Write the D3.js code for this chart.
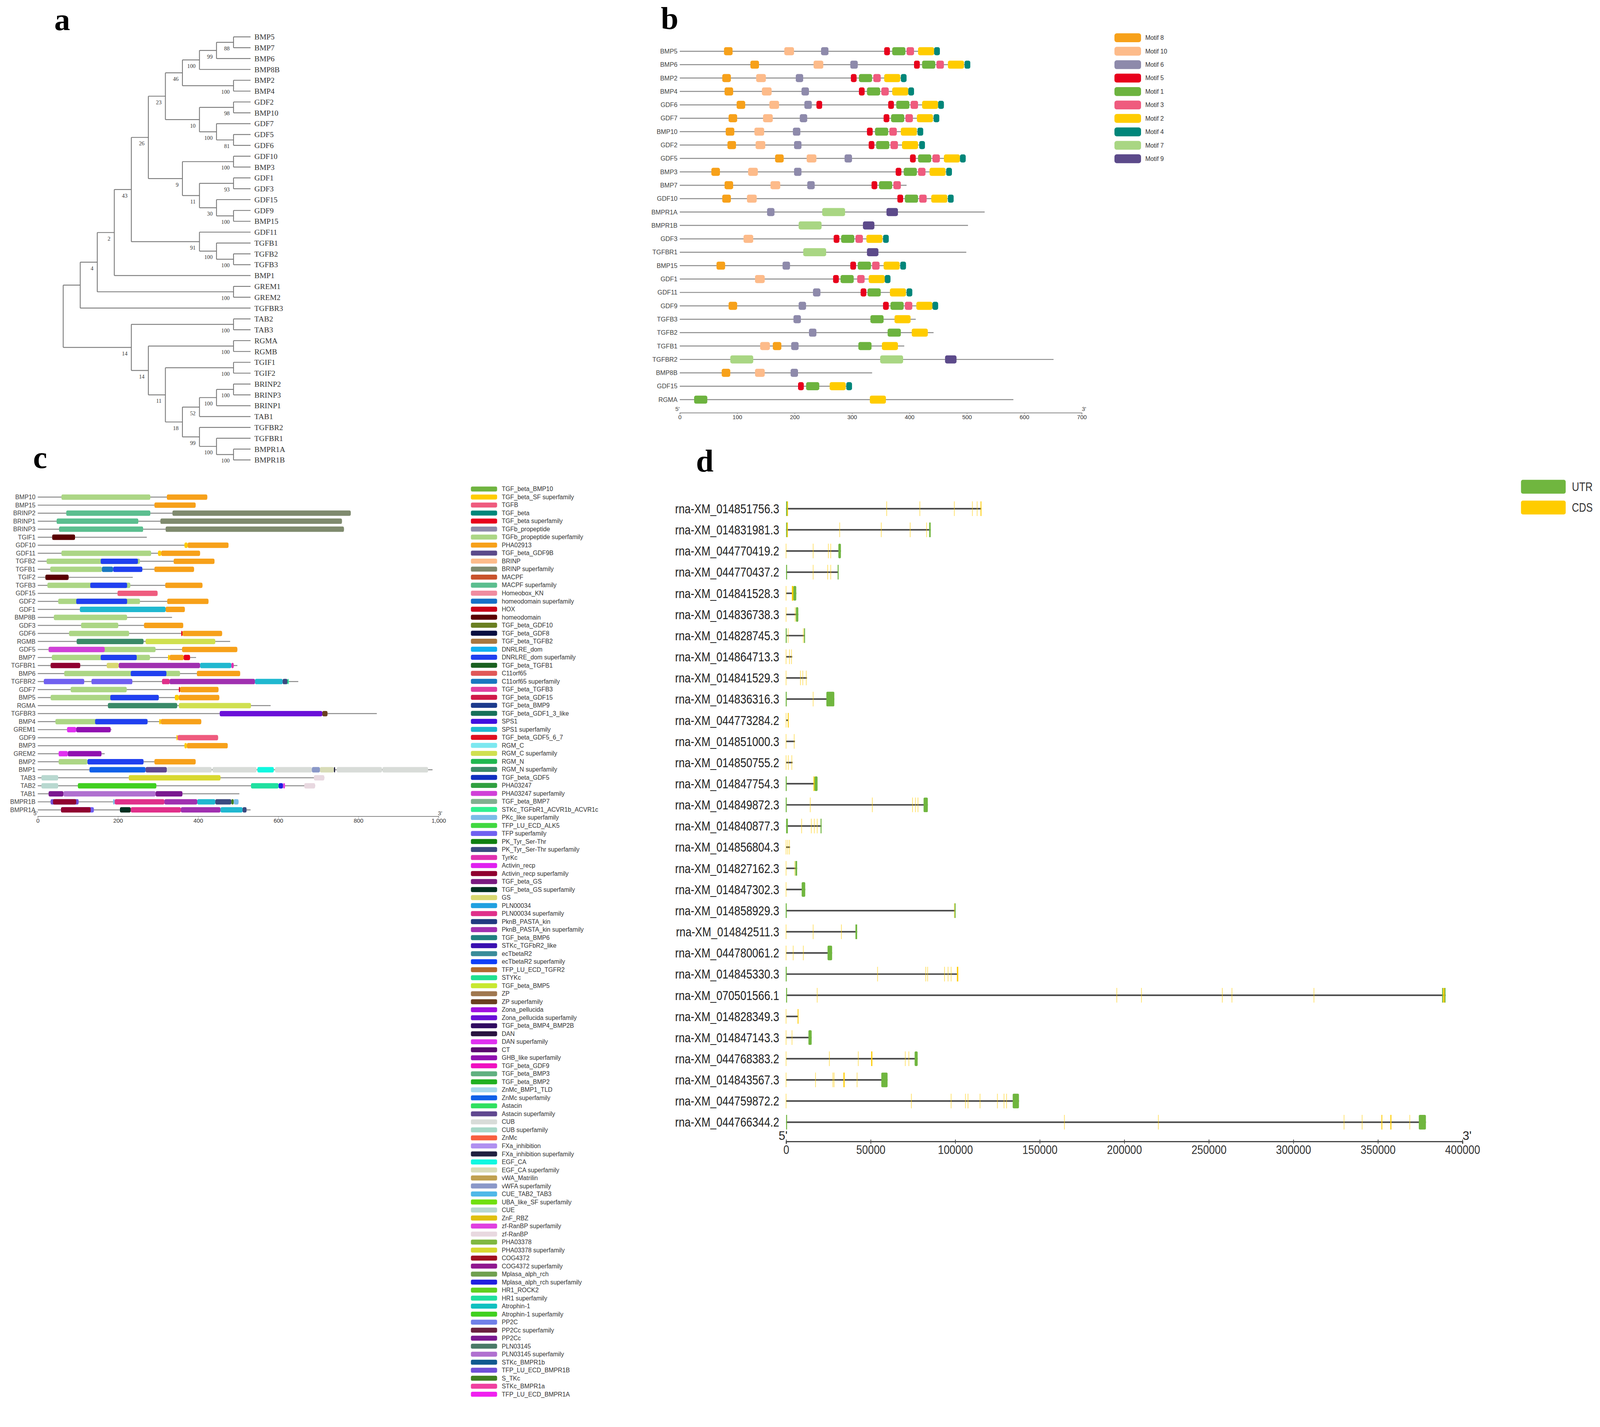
<!DOCTYPE html>
<html>
<head>
<meta charset="utf-8">
<script src="https://cdn.jsdelivr.net/npm/d3@7"></script>
<style>
  html, body { margin: 0; padding: 0; background: #fff; overflow: hidden; }
  svg { display: block; width: 100vw; height: auto; }
</style>
</head>
<body>
<svg id="fig" viewBox="0 0 4152 3653" preserveAspectRatio="xMinYMin meet"></svg>
<script>
// ---------- a: phylogenetic tree (newick, bootstrap after each clade) ----------
const treeNewick =
  "(((((((((((BMP5,BMP7)88,BMP6)99,BMP8B)100,(BMP2,BMP4)100)46,((GDF2,BMP10)98,(GDF7,(GDF5,GDF6)81)100)10)23," +
  "((GDF10,BMP3)100,((GDF1,GDF3)93,(GDF15,(GDF9,BMP15)100)30)11)9)26,(GDF11,(TGFB1,(TGFB2,TGFB3)100)100)91)43,BMP1)2," +
  "(GREM1,GREM2)100)4,TGFBR3),((TAB2,TAB3)100,((RGMA,RGMB)100,((TGIF1,TGIF2)100,((((BRINP2,BRINP3)100,BRINP1)100,TAB1)52," +
  "(TGFBR2,(TGFBR1,(BMPR1A,BMPR1B)100)100)99)18)11)14)14);";

// ---------- b: conserved motifs ----------
const motifIds = [8, 10, 6, 5, 1, 3, 2, 4, 7, 9];
const motifColors = ["#f7a11a", "#fdbb8a", "#8e8aab", "#e8001c", "#6db33f", "#ef5b7e", "#ffcc00", "#00867a", "#a9d683", "#5c4a8a"];
// motif width in aa, indexed by motif number - 1
const motifSizes = [23, 28, 13, 10, 10, 13, 40, 15, 20, 17];
const motifGenes = ["BMP5", "BMP6", "BMP2", "BMP4", "GDF6", "GDF7", "BMP10", "GDF2", "GDF5", "BMP3", "BMP7", "GDF10", "BMPR1A", "BMPR1B",
  "GDF3", "TGFBR1", "BMP15", "GDF1", "GDF11", "GDF9", "TGFB3", "TGFB2", "TGFB1", "TGFBR2", "BMP8B", "GDF15", "RGMA"];
const motifLengths = [453, 505, 394, 408, 460, 451, 423, 426, 498, 474, 395, 476, 531, 502, 363, 499, 394, 367, 404, 450, 411, 442, 391, 651, 335, 299, 581];
// [motif, start]
const motifSites = [
  [[8, 77], [10, 182], [6, 246], [5, 356], [1, 370], [3, 395], [2, 415], [4, 443]],
  [[8, 123], [10, 233], [6, 297], [5, 408], [1, 422], [3, 447], [2, 467], [4, 496]],
  [[8, 74], [10, 133], [6, 202], [5, 298], [1, 312], [3, 337], [2, 356], [4, 385]],
  [[8, 78], [10, 143], [6, 212], [5, 312], [1, 326], [3, 351], [2, 370], [4, 398]],
  [[8, 99], [10, 156], [6, 217], [5, 238], [5, 363], [1, 377], [3, 402], [2, 422], [4, 450]],
  [[8, 85], [10, 145], [6, 209], [5, 355], [1, 368], [3, 393], [2, 413], [4, 442]],
  [[8, 80], [10, 130], [6, 197], [5, 326], [1, 340], [3, 365], [2, 385], [4, 414]],
  [[8, 83], [10, 132], [6, 199], [5, 329], [1, 342], [3, 367], [2, 387], [4, 417]],
  [[8, 166], [10, 221], [6, 287], [5, 401], [1, 415], [3, 440], [2, 460], [4, 488]],
  [[8, 55], [10, 119], [6, 199], [5, 376], [1, 390], [3, 415], [2, 435], [4, 464]],
  [[8, 78], [10, 158], [6, 222], [5, 334], [1, 347], [3, 372]],
  [[8, 74], [10, 117], [5, 379], [1, 392], [3, 417], [2, 438], [4, 467]],
  [[6, 152], [7, 248], [9, 360]],
  [[7, 207], [9, 319]],
  [[10, 111], [5, 268], [1, 281], [3, 306], [2, 325], [4, 354]],
  [[7, 215], [9, 326]],
  [[8, 64], [6, 179], [5, 297], [1, 310], [3, 335], [2, 355], [4, 384]],
  [[10, 131], [5, 267], [1, 280], [3, 309], [2, 329], [4, 357]],
  [[6, 232], [5, 315], [1, 327], [2, 366], [4, 395]],
  [[8, 85], [6, 207], [5, 354], [1, 367], [3, 392], [2, 412], [4, 440]],
  [[6, 198], [1, 332], [2, 374]],
  [[6, 225], [1, 362], [2, 404]],
  [[10, 140], [8, 162], [6, 194], [1, 311], [2, 352]],
  [[7, 88], [7, 349], [9, 462]],
  [[8, 73], [10, 131], [6, 193]],
  [[5, 206], [1, 220], [2, 261], [4, 290]],
  [[1, 25], [2, 331]]
];

// ---------- c: conserved domains ----------
const domainLegend = [
  ["TGF_beta_BMP10", "#6fb43f"], ["TGF_beta_SF superfamily", "#ffcc00"], ["TGFB", "#ef5b7e"], ["TGF_beta", "#00877a"],
  ["TGF_beta superfamily", "#e8001c"], ["TGFb_propeptide", "#8e8aab"], ["TGFb_propeptide superfamily", "#acd685"], ["PHA02913", "#f7a11a"],
  ["TGF_beta_GDF9B", "#5c4a8a"], ["BRINP", "#fdbb8a"], ["BRINP superfamily", "#7f8a6e"], ["MACPF", "#c8532b"],
  ["MACPF superfamily", "#5bbe8f"], ["Homeobox_KN", "#f08ca0"], ["homeodomain superfamily", "#1670c8"], ["HOX", "#c8001a"],
  ["homeodomain", "#5a0000"], ["TGF_beta_GDF10", "#6a7f22"], ["TGF_beta_GDF8", "#0a0f40"], ["TGF_beta_TGFB2", "#a87840"],
  ["DNRLRE_dom", "#12b0f0"], ["DNRLRE_dom superfamily", "#2040f0"], ["TGF_beta_TGFB1", "#1a6020"], ["C11orf65", "#e05858"],
  ["C11orf65 superfamily", "#1878c0"], ["TGF_beta_TGFB3", "#e040a0"], ["TGF_beta_GDF15", "#d01848"], ["TGF_beta_BMP9", "#1c3a8c"],
  ["TGF_beta_GDF1_3_like", "#17705a"], ["SPS1", "#4010e0"], ["SPS1 superfamily", "#20b8d0"], ["TGF_beta_GDF5_6_7", "#e01020"],
  ["RGM_C", "#7ce8f0"], ["RGM_C superfamily", "#d0e050"], ["RGM_N", "#20b850"], ["RGM_N superfamily", "#3a8a68"],
  ["TGF_beta_GDF5", "#1030c0"], ["PHA03247", "#30a040"], ["PHA03247 superfamily", "#d040d8"], ["TGF_beta_BMP7", "#80b090"],
  ["STKc_TGFbR1_ACVR1b_ACVR1c", "#30f090"], ["PKc_like superfamily", "#7abce8"], ["TFP_LU_ECD_ALK5", "#40d840"], ["TFP superfamily", "#7060f0"],
  ["PK_Tyr_Ser-Thr", "#108010"], ["PK_Tyr_Ser-Thr superfamily", "#3a4a80"], ["TyrKc", "#e030b0"], ["Activin_recp", "#e020f0"],
  ["Activin_recp superfamily", "#900030"], ["TGF_beta_GS", "#7a1a80"], ["TGF_beta_GS superfamily", "#003020"], ["GS", "#d8d870"],
  ["PLN00034", "#20a0e0"], ["PLN00034 superfamily", "#e0308a"], ["PknB_PASTA_kin", "#203a80"], ["PknB_PASTA_kin superfamily", "#a030b0"],
  ["TGF_beta_BMP6", "#208080"], ["STKc_TGFbR2_like", "#3a10b0"], ["ecTbetaR2", "#3a8c9a"], ["ecTbetaR2 superfamily", "#1040f8"],
  ["TFP_LU_ECD_TGFR2", "#b06a30"], ["STYKc", "#20e090"], ["TGF_beta_BMP5", "#c8e830"], ["ZP", "#a07850"],
  ["ZP superfamily", "#6a4020"], ["Zona_pellucida", "#a010e0"], ["Zona_pellucida superfamily", "#6a10d8"], ["TGF_beta_BMP4_BMP2B", "#300a60"],
  ["DAN", "#2a1440"], ["DAN superfamily", "#e030f0"], ["CT", "#5a0a70"], ["GHB_like superfamily", "#9010b0"],
  ["TGF_beta_GDF9", "#f010c0"], ["TGF_beta_BMP3", "#60b080"], ["TGF_beta_BMP2", "#20b020"], ["ZnMc_BMP1_TLD", "#a8d8ec"],
  ["ZnMc superfamily", "#1060e8"], ["Astacin", "#30e060"], ["Astacin superfamily", "#604890"], ["CUB", "#d8dcd8"],
  ["CUB superfamily", "#a8d8c8"], ["ZnMc", "#f86040"], ["FXa_inhibition", "#b090f0"], ["FXa_inhibition superfamily", "#202040"],
  ["EGF_CA", "#10f8e0"], ["EGF_CA superfamily", "#d8dcb8"], ["vWA_Matrilin", "#c0a050"], ["vWFA superfamily", "#8a98c8"],
  ["CUE_TAB2_TAB3", "#50b8e8"], ["UBA_like_SF superfamily", "#70e010"], ["CUE", "#b8d8d0"], ["ZnF_RBZ", "#e0c010"],
  ["zf-RanBP superfamily", "#e040e0"], ["zf-RanBP", "#e8d8e0"], ["PHA03378", "#80b840"], ["PHA03378 superfamily", "#d8d830"],
  ["COG4372", "#a01020"], ["COG4372 superfamily", "#901890"], ["Mplasa_alph_rch", "#70a050"], ["Mplasa_alph_rch superfamily", "#2020e0"],
  ["HR1_ROCK2", "#60d020"], ["HR1 superfamily", "#20e0a0"], ["Atrophin-1", "#10c0c0"], ["Atrophin-1 superfamily", "#40d020"],
  ["PP2C", "#7080e8"], ["PP2Cc superfamily", "#6a2040"], ["PP2Cc", "#7a1890"], ["PLN03145", "#4a7a68"],
  ["PLN03145 superfamily", "#b070d0"], ["STKc_BMPR1b", "#105a90"], ["TFP_LU_ECD_BMPR1B", "#7050d8"], ["S_TKc", "#408020"],
  ["STKc_BMPR1a", "#f040a0"], ["TFP_LU_ECD_BMPR1A", "#f020f0"]
];
const domainGenes = ["BMP10", "BMP15", "BRINP2", "BRINP1", "BRINP3", "TGIF1", "GDF10", "GDF11", "TGFB2", "TGFB1", "TGIF2", "TGFB3",
  "GDF15", "GDF2", "GDF1", "BMP8B", "GDF3", "GDF6", "RGMB", "GDF5", "BMP7", "TGFBR1", "BMP6", "TGFBR2", "GDF7", "BMP5", "RGMA",
  "TGFBR3", "BMP4", "GREM1", "GDF9", "BMP3", "GREM2", "BMP2", "BMP1", "TAB3", "TAB2", "TAB1", "BMPR1B", "BMPR1A"];
const domainLengths = [423, 394, 781, 759, 764, 272, 476, 405, 441, 390, 237, 411, 299, 426, 367, 335, 363, 460, 480, 498, 395, 498,
  505, 650, 451, 453, 581, 846, 408, 184, 450, 474, 167, 394, 985, 715, 692, 503, 501, 531];
const domainHits = [
  [["TGFb_propeptide superfamily", 59, 281], ["PHA02913", 322, 423]],
  [["PHA02913", 291, 394]],
  [["MACPF superfamily", 71, 281], ["BRINP superfamily", 336, 781]],
  [["MACPF superfamily", 47, 251], ["BRINP superfamily", 306, 759]],
  [["MACPF superfamily", 53, 263], ["BRINP superfamily", 319, 764]],
  [["homeodomain", 36, 93]],
  [["TGF_beta_SF superfamily", 366, 374], ["PHA02913", 374, 476]],
  [["TGFb_propeptide superfamily", 59, 283], ["TGF_beta_SF superfamily", 300, 308], ["PHA02913", 308, 405]],
  [["TGFb_propeptide superfamily", 22, 255], ["DNRLRE_dom superfamily", 157, 250], ["PHA02913", 339, 441]],
  [["TGFb_propeptide superfamily", 31, 160], ["C11orf65 superfamily", 160, 188], ["DNRLRE_dom superfamily", 188, 261], ["PHA02913", 291, 390]],
  [["homeodomain", 19, 77]],
  [["TGFb_propeptide superfamily", 24, 231], ["DNRLRE_dom superfamily", 131, 223], ["PHA02913", 318, 411]],
  [["TGFB", 199, 299]],
  [["TGFb_propeptide superfamily", 51, 255], ["DNRLRE_dom superfamily", 96, 223], ["PHA02913", 323, 426]],
  [["SPS1 superfamily", 105, 319], ["PHA02913", 319, 367]],
  [["TGFb_propeptide superfamily", 40, 223]],
  [["TGFb_propeptide superfamily", 108, 201], ["PHA02913", 265, 363]],
  [["TGFb_propeptide superfamily", 78, 228], ["TGF_beta superfamily", 358, 361], ["PHA02913", 361, 460]],
  [["RGM_N superfamily", 97, 264], ["RGM_C superfamily", 269, 443]],
  [["TGFb_propeptide superfamily", 27, 294], ["PHA03247 superfamily", 27, 167], ["PHA02913", 360, 498]],
  [["TGFb_propeptide superfamily", 35, 280], ["DNRLRE_dom superfamily", 157, 247], ["TGF_beta_SF superfamily", 325, 329], ["PHA02913", 329, 364], ["TGF_beta superfamily", 364, 380]],
  [["Activin_recp superfamily", 32, 106], ["GS", 172, 202], ["PknB_PASTA_kin superfamily", 202, 405], ["SPS1 superfamily", 405, 483], ["TyrKc", 483, 489]],
  [["TGFb_propeptide superfamily", 66, 355], ["DNRLRE_dom superfamily", 232, 321], ["PHA02913", 397, 505]],
  [["TFP superfamily", 15, 116], ["TFP superfamily", 134, 236], ["PLN00034 superfamily", 310, 329], ["PknB_PASTA_kin superfamily", 329, 542], ["SPS1 superfamily", 542, 611], ["PK_Tyr_Ser-Thr superfamily", 611, 623], ["STYKc", 623, 626]],
  [["TGFb_propeptide superfamily", 82, 222], ["TGF_beta superfamily", 352, 355], ["PHA02913", 355, 451]],
  [["TGFb_propeptide superfamily", 32, 302], ["DNRLRE_dom superfamily", 181, 302], ["TGF_beta_SF superfamily", 342, 352], ["PHA02913", 352, 453]],
  [["RGM_N superfamily", 175, 348], ["RGM_C superfamily", 352, 532]],
  [["Zona_pellucida superfamily", 454, 710], ["ZP superfamily", 710, 723]],
  [["TGFb_propeptide superfamily", 44, 274], ["DNRLRE_dom superfamily", 143, 274], ["TGF_beta_SF superfamily", 303, 307], ["PHA02913", 307, 408]],
  [["DAN superfamily", 73, 96], ["GHB_like superfamily", 96, 182]],
  [["TGF_beta_SF superfamily", 346, 349], ["TGFB", 349, 450]],
  [["TGF_beta_SF superfamily", 366, 372], ["PHA02913", 372, 474]],
  [["DAN superfamily", 52, 75], ["GHB_like superfamily", 75, 159]],
  [["TGFb_propeptide superfamily", 52, 124], ["DNRLRE_dom superfamily", 124, 264], ["PHA02913", 291, 394]],
  [["ZnMc superfamily", 129, 269], ["Astacin superfamily", 269, 322], ["CUB", 322, 434], ["CUB", 436, 546], ["EGF_CA", 548, 589], ["CUB", 592, 684],
   ["vWFA superfamily", 684, 704], ["EGF_CA superfamily", 704, 739], ["FXa_inhibition superfamily", 739, 742], ["CUB", 746, 859], ["CUB", 860, 974]],
  [["CUE", 9, 51], ["PHA03378 superfamily", 227, 456], ["zf-RanBP", 689, 715]],
  [["CUE", 9, 51], ["Atrophin-1 superfamily", 100, 296], ["HR1 superfamily", 532, 601], ["Mplasa_alph_rch superfamily", 601, 612], ["zf-RanBP superfamily", 612, 617], ["zf-RanBP", 665, 692]],
  [["PP2Cc", 27, 64], ["PLN03145 superfamily", 64, 294], ["PP2Cc", 294, 361]],
  [["TFP_LU_ECD_BMPR1B", 32, 102], ["Activin_recp superfamily", 38, 96], ["PKc_like superfamily", 188, 192], ["PLN00034 superfamily", 192, 316], ["PknB_PASTA_kin superfamily", 316, 398],
   ["SPS1 superfamily", 398, 443], ["PK_Tyr_Ser-Thr superfamily", 443, 483], ["S_TKc", 483, 489], ["PKc_like superfamily", 489, 501]],
  [["TFP superfamily", 58, 140], ["Activin_recp superfamily", 58, 132], ["TGF_beta_GS superfamily", 205, 232], ["PLN00034 superfamily", 232, 357],
   ["PknB_PASTA_kin superfamily", 357, 456], ["SPS1 superfamily", 456, 511], ["PK_Tyr_Ser-Thr superfamily", 511, 521]]
];

// ---------- d: gene structure (bp) ----------
const featureTypes = ["UTR", "CDS"];
const featureColors = ["#70b63f", "#ffcc00"];
const geneIds = ["rna-XM_014851756.3", "rna-XM_014831981.3", "rna-XM_044770419.2", "rna-XM_044770437.2", "rna-XM_014841528.3",
  "rna-XM_014836738.3", "rna-XM_014828745.3", "rna-XM_014864713.3", "rna-XM_014841529.3", "rna-XM_014836316.3", "rna-XM_044773284.2",
  "rna-XM_014851000.3", "rna-XM_014850755.2", "rna-XM_014847754.3", "rna-XM_014849872.3", "rna-XM_014840877.3", "rna-XM_014856804.3",
  "rna-XM_014827162.3", "rna-XM_014847302.3", "rna-XM_014858929.3", "rna-XM_014842511.3", "rna-XM_044780061.2", "rna-XM_014845330.3",
  "rna-XM_070501566.1", "rna-XM_014828349.3", "rna-XM_014847143.3", "rna-XM_044768383.2", "rna-XM_014843567.3", "rna-XM_044759872.2",
  "rna-XM_044766344.2"];
const geneLengths = [115500, 85500, 32400, 31000, 6000, 7200, 11200, 3600, 12300, 28500, 1500, 5200, 3800, 18600, 83800, 21000, 2300,
  6500, 11300, 100200, 42000, 27200, 101800, 390000, 7300, 15100, 77800, 60000, 137700, 378400];
const geneFeatures = [
  [["UTR", 0, 600], ["CDS", 600, 1100], ["CDS", 59500, 59800], ["CDS", 79100, 79400], ["CDS", 99500, 99800], ["CDS", 110200, 110500], ["CDS", 113000, 113300], ["CDS", 115000, 115500]],
  [["UTR", 0, 500], ["CDS", 500, 1000], ["CDS", 31700, 32000], ["CDS", 56300, 56600], ["CDS", 73400, 73700], ["CDS", 83100, 83400], ["UTR", 84600, 85500]],
  [["CDS", 0, 400], ["CDS", 16000, 16300], ["CDS", 25000, 25300], ["CDS", 26400, 26700], ["UTR", 30900, 32400]],
  [["UTR", 0, 500], ["CDS", 16000, 16200], ["CDS", 24600, 24800], ["CDS", 26400, 26600], ["UTR", 30700, 31000]],
  [["CDS", 0, 300], ["CDS", 3400, 4300], ["UTR", 4300, 6000]],
  [["CDS", 0, 300], ["CDS", 5400, 5800], ["UTR", 5800, 7200]],
  [["UTR", 0, 300], ["CDS", 1200, 1500], ["CDS", 10200, 10600], ["UTR", 10600, 11200]],
  [["CDS", 0, 300], ["CDS", 2000, 2300], ["CDS", 3200, 3600]],
  [["CDS", 0, 300], ["CDS", 8500, 8800], ["CDS", 9900, 10200], ["CDS", 11900, 12300]],
  [["UTR", 0, 400], ["CDS", 16000, 16300], ["UTR", 23800, 28500]],
  [["CDS", 0, 300], ["CDS", 1000, 1500]],
  [["CDS", 0, 300], ["CDS", 4800, 5200]],
  [["CDS", 0, 300], ["CDS", 1300, 1600], ["CDS", 3400, 3800]],
  [["UTR", 0, 400], ["CDS", 16200, 16800], ["UTR", 16800, 18600]],
  [["UTR", 0, 400], ["CDS", 14300, 14600], ["CDS", 51000, 51300], ["CDS", 74800, 75100], ["CDS", 76500, 76800], ["CDS", 78000, 78300], ["UTR", 81300, 83800]],
  [["UTR", 0, 1000], ["CDS", 9200, 9500], ["CDS", 14900, 15200], ["CDS", 16700, 17000], ["CDS", 18400, 18700], ["UTR", 20600, 21000]],
  [["CDS", 0, 300], ["CDS", 1000, 1300], ["CDS", 2000, 2300]],
  [["CDS", 0, 300], ["CDS", 5100, 5500], ["UTR", 5500, 6500]],
  [["CDS", 0, 300], ["UTR", 9200, 11300]],
  [["UTR", 0, 400], ["CDS", 99500, 99900], ["UTR", 99900, 100200]],
  [["CDS", 0, 300], ["CDS", 16000, 16300], ["CDS", 32700, 33000], ["UTR", 41000, 42000]],
  [["CDS", 0, 300], ["CDS", 4200, 4500], ["CDS", 10200, 10500], ["UTR", 24500, 27200]],
  [["UTR", 0, 400], ["CDS", 54100, 54400], ["CDS", 82600, 82900], ["CDS", 83700, 84000], ["CDS", 93700, 94000], ["CDS", 95800, 96100], ["CDS", 97600, 97900], ["CDS", 101000, 101800]],
  [["UTR", 0, 500], ["CDS", 18400, 18700], ["CDS", 195600, 195900], ["CDS", 210200, 210500], ["CDS", 258000, 258300], ["CDS", 263700, 264000], ["CDS", 312200, 312500],
   ["UTR", 388200, 388600], ["CDS", 388600, 389400], ["UTR", 389400, 390000]],
  [["CDS", 0, 300], ["CDS", 6800, 7300]],
  [["CDS", 0, 300], ["CDS", 3500, 3800], ["UTR", 13200, 15100]],
  [["CDS", 0, 300], ["CDS", 25600, 25900], ["CDS", 42700, 43000], ["CDS", 50300, 51000], ["CDS", 70500, 70800], ["CDS", 72600, 72900], ["UTR", 76000, 77800]],
  [["CDS", 0, 300], ["CDS", 17400, 17700], ["CDS", 27700, 28000], ["CDS", 28400, 28700], ["CDS", 33900, 34600], ["CDS", 42000, 42300], ["UTR", 56300, 60000]],
  [["CDS", 0, 300], ["CDS", 74100, 74400], ["CDS", 97600, 97900], ["CDS", 106100, 106400], ["CDS", 107600, 107900], ["CDS", 114700, 115000],
   ["CDS", 125000, 125300], ["CDS", 128900, 129200], ["CDS", 130400, 130700], ["UTR", 134000, 137700]],
  [["UTR", 0, 500], ["CDS", 164600, 164900], ["CDS", 220200, 220500], ["CDS", 330000, 330300], ["CDS", 340700, 341000], ["CDS", 352100, 352600],
   ["CDS", 357400, 358000], ["CDS", 368900, 369200], ["UTR", 374200, 378400]]
];

// ------------------------------------------------------------------
const sans = "'Liberation Sans', Arial, sans-serif";
const serif = "'Liberation Serif', 'Times New Roman', serif";
const narrow = "'Liberation Sans Narrow', 'Arial Narrow', 'Liberation Sans', Arial, sans-serif";

const svg = d3.select("#fig");
svg.append("rect").attr("width", 4152).attr("height", 3653).attr("fill", "#fff");

// panel letters
svg.append("g")
  .attr("font-family", serif).attr("font-weight", "bold").attr("font-size", 82).attr("fill", "#000")
  .selectAll("text")
  .data([["a", 141, 78], ["b", 1715, 75], ["c", 86, 1214], ["d", 1806, 1223]])
  .join("text")
  .attr("x", d => d[1]).attr("y", d => d[2])
  .text(d => d[0]);

function parseNewick(s) {
  let i = 0;
  function node() {
    const n = {};
    if (s[i] === "(") {
      i++;
      n.children = [];
      do { n.children.push(node()); } while (s[i] === "," && ++i);
      i++;
    }
    let lab = "";
    while (i < s.length && !",();".includes(s[i])) lab += s[i++];
    if (n.children) { if (lab) n.support = lab; } else n.name = lab;
    return n;
  }
  return node();
}

// ---------------- panel a ----------------
{
  const root = d3.hierarchy(parseNewick(treeNewick));
  d3.cluster().nodeSize([28.15, 44.2]).separation(() => 1)(root);
  const first = root.leaves()[0].x;
  const g = svg.append("g").attr("transform", `translate(164,${95.7 - first})`);

  g.append("g")
    .attr("fill", "none").attr("stroke", "#777").attr("stroke-width", 2.2)
    .selectAll("path")
    .data(root.descendants().filter(d => d.children))
    .join("path")
    .attr("d", d => {
      let p = `M${d.y},${d.children[0].x}V${d.children[d.children.length - 1].x}`;
      d.children.forEach(c => { p += `M${d.y},${c.x}H${c.y}`; });
      return p;
    });

  g.append("g")
    .attr("font-family", serif).attr("font-size", 20).attr("fill", "#333")
    .selectAll("text")
    .data(root.leaves())
    .join("text")
    .attr("x", d => d.y + 10).attr("y", d => d.x).attr("dy", "0.35em")
    .text(d => d.data.name);

  g.append("g")
    .attr("font-family", serif).attr("font-size", 14.5).attr("fill", "#333").attr("text-anchor", "end")
    .selectAll("text")
    .data(root.descendants().filter(d => d.data.support))
    .join("text")
    .attr("x", d => d.y - 10).attr("y", d => d.x + 15.7).attr("dy", "0.35em")
    .text(d => d.data.support);
}

function styleAxis(g, color, width, size, fam) {
  g.select(".domain").attr("stroke", color).attr("stroke-width", width);
  g.selectAll(".tick line").attr("stroke", color).attr("stroke-width", width * 0.6);
  g.selectAll(".tick text").attr("font-size", size).attr("font-family", fam).attr("fill", "#333");
}

// ---------------- panel b ----------------
{
  const x = d3.scaleLinear().domain([0, 700]).range([1764, 2807]);
  const y = d3.scalePoint().domain(motifGenes).range([133, 1037]);
  const color = d3.scaleOrdinal(motifIds, motifColors);
  const rows = motifGenes.map((gene, i) => ({ gene, len: motifLengths[i], sites: motifSites[i] }));

  const row = svg.append("g").selectAll("g").data(rows).join("g")
    .attr("transform", d => `translate(0,${y(d.gene)})`);
  row.append("line").attr("x1", x(0)).attr("x2", d => x(d.len))
    .attr("stroke", "#8a8a8a").attr("stroke-width", 2.5);
  row.append("text").attr("x", x(0) - 6).attr("dy", "0.35em").attr("text-anchor", "end")
    .attr("font-family", sans).attr("font-size", 16.5).attr("fill", "#444")
    .text(d => d.gene);
  row.selectAll("rect").data(d => d.sites).join("rect")
    .attr("x", s => x(s[1])).attr("width", s => x(s[1] + motifSizes[s[0] - 1]) - x(s[1]))
    .attr("y", -10.5).attr("height", 21).attr("rx", 5)
    .attr("fill", s => color(s[0]));

  svg.append("g").attr("transform", "translate(0,1071)")
    .call(d3.axisBottom(x).tickValues(d3.range(0, 701, 100)).tickSize(4).tickPadding(2))
    .call(g => styleAxis(g, "#8a8a8a", 2, 15, sans));
  svg.append("g").attr("font-family", sans).attr("font-size", 15).attr("fill", "#444")
    .selectAll("text").data([["5'", x(0) - 6], ["3'", x(700) + 6]]).join("text")
    .attr("x", d => d[1]).attr("y", 1066).attr("text-anchor", "middle").text(d => d[0]);

  // legend
  const ly = d3.scalePoint().domain(motifIds).range([98, 412]);
  const lg = svg.append("g").selectAll("g").data(motifIds).join("g")
    .attr("transform", d => `translate(2892,${ly(d)})`);
  lg.append("rect").attr("y", -11.5).attr("width", 69).attr("height", 23).attr("rx", 6)
    .attr("fill", d => color(d));
  lg.append("text").attr("x", 80).attr("dy", "0.35em")
    .attr("font-family", sans).attr("font-size", 16).attr("fill", "#333")
    .text(d => `Motif ${d}`);
}

// ---------------- panel c ----------------
{
  const x = d3.scaleLinear().domain([0, 1000]).range([98, 1138]);
  const y = d3.scalePoint().domain(domainGenes).range([1290, 2101.5]);
  const color = d3.scaleOrdinal(domainLegend.map(d => d[0]), domainLegend.map(d => d[1]));
  const rows = domainGenes.map((gene, i) => ({ gene, len: domainLengths[i], hits: domainHits[i] }));

  const row = svg.append("g").selectAll("g").data(rows).join("g")
    .attr("transform", d => `translate(0,${y(d.gene)})`);
  row.append("line").attr("x1", x(0)).attr("x2", d => x(d.len))
    .attr("stroke", "#8a8a8a").attr("stroke-width", 2.5);
  row.append("text").attr("x", x(0) - 6).attr("dy", "0.35em").attr("text-anchor", "end")
    .attr("font-family", sans).attr("font-size", 16).attr("fill", "#444")
    .text(d => d.gene);
  row.selectAll("rect").data(d => d.hits).join("rect")
    .attr("x", h => x(h[1])).attr("width", h => Math.max(2, x(h[2]) - x(h[1])))
    .attr("y", -7).attr("height", 14).attr("rx", 4)
    .attr("fill", h => color(h[0]));

  svg.append("g").attr("transform", "translate(0,2118)")
    .call(d3.axisBottom(x).tickValues(d3.range(0, 1001, 200)).tickSize(4).tickPadding(2))
    .call(g => styleAxis(g, "#8a8a8a", 2, 15, sans));
  svg.append("g").attr("font-family", sans).attr("font-size", 15).attr("fill", "#444")
    .selectAll("text").data([["5'", x(0) - 6], ["3'", x(1000) + 4]]).join("text")
    .attr("x", d => d[1]).attr("y", 2116).attr("text-anchor", "middle").text(d => d[0]);

  // legend
  const ly = d3.scalePoint().domain(domainLegend.map(d => d[0])).range([1269, 3618]);
  const lg = svg.append("g").selectAll("g").data(domainLegend).join("g")
    .attr("transform", d => `translate(1222,${ly(d[0])})`);
  lg.append("rect").attr("y", -6.5).attr("width", 68).attr("height", 13).attr("rx", 4)
    .attr("fill", d => d[1]);
  lg.append("text").attr("x", 80).attr("dy", "0.35em")
    .attr("font-family", sans).attr("font-size", 16).attr("fill", "#333")
    .text(d => d[0]);
}

// ---------------- panel d ----------------
{
  const x = d3.scaleLinear().domain([0, 400000]).range([2040, 3795]);
  const y = d3.scalePoint().domain(geneIds).range([1320, 2912]);
  const color = d3.scaleOrdinal(featureTypes, featureColors);
  const rows = geneIds.map((id, i) => ({ id, len: geneLengths[i], feats: geneFeatures[i] }));

  // squeeze text to the condensed face of the original
  const probe = svg.append("text").attr("font-family", narrow).attr("font-size", 34).text(geneIds[0]);
  const squeeze = Math.min(1, 270 / probe.node().getComputedTextLength());
  probe.remove();
  const condense = (sel, k = squeeze) => sel.each(function () {
    if (k < 0.97) {
      this.setAttribute("textLength", this.getComputedTextLength() * k);
      this.setAttribute("lengthAdjust", "spacingAndGlyphs");
    }
  });

  const row = svg.append("g").selectAll("g").data(rows).join("g")
    .attr("transform", d => `translate(0,${y(d.id)})`);
  row.append("line").attr("x1", x(0)).attr("x2", d => x(d.len))
    .attr("stroke", "#d6d6d6").attr("stroke-width", 6);
  row.append("line").attr("x1", x(0)).attr("x2", d => x(d.len))
    .attr("stroke", "#333").attr("stroke-width", 3);
  const wpx = f => x(f[2]) - x(f[1]);
  row.selectAll("rect").data(d => d.feats).join("rect")
    .attr("x", f => x(f[1]) - (wpx(f) < 2 ? 1 : 0))
    .attr("width", f => Math.max(f[0] === "UTR" ? 2.5 : 1.8, wpx(f)))
    .attr("y", -19).attr("height", 38)
    .attr("rx", f => (wpx(f) > 6 ? 3 : 0))
    .attr("fill", f => color(f[0]))
    .attr("fill-opacity", f => (f[0] === "CDS" && wpx(f) < 2 ? 0.6 : 1));
  row.append("text").attr("x", x(0) - 18).attr("dy", "0.35em").attr("text-anchor", "end")
    .attr("font-family", narrow).attr("font-size", 34).attr("fill", "#222")
    .text(d => d.id)
    .call(condense);

  svg.append("g").attr("transform", "translate(0,2962)")
    .call(d3.axisBottom(x).tickValues(d3.range(0, 400001, 50000)).tickSize(6).tickPadding(4).tickFormat(d3.format("d")))
    .call(g => styleAxis(g, "#444", 3, 31, narrow))
    .call(g => g.selectAll(".tick line").attr("y1", -5))
    .call(g => g.selectAll(".tick text").call(s => condense(s, 0.88)));
  svg.append("g").attr("font-family", narrow).attr("font-size", 31).attr("fill", "#222")
    .selectAll("text").data([["5'", x(0) - 8], ["3'", x(400000) + 12]]).join("text")
    .attr("x", d => d[1]).attr("y", 2958).attr("text-anchor", "middle").text(d => d[0]);

  // legend
  const lg = svg.append("g").selectAll("g").data(featureTypes).join("g")
    .attr("transform", (d, i) => `translate(3947,${1263 + i * 54})`);
  lg.append("rect").attr("y", -18).attr("width", 116).attr("height", 36).attr("rx", 5)
    .attr("fill", d => color(d));
  lg.append("text").attr("x", 132).attr("dy", "0.35em")
    .attr("font-family", narrow).attr("font-size", 32).attr("fill", "#333")
    .attr("textLength", 54).attr("lengthAdjust", "spacingAndGlyphs")
    .text(d => d);
}
</script>
</body>
</html>
